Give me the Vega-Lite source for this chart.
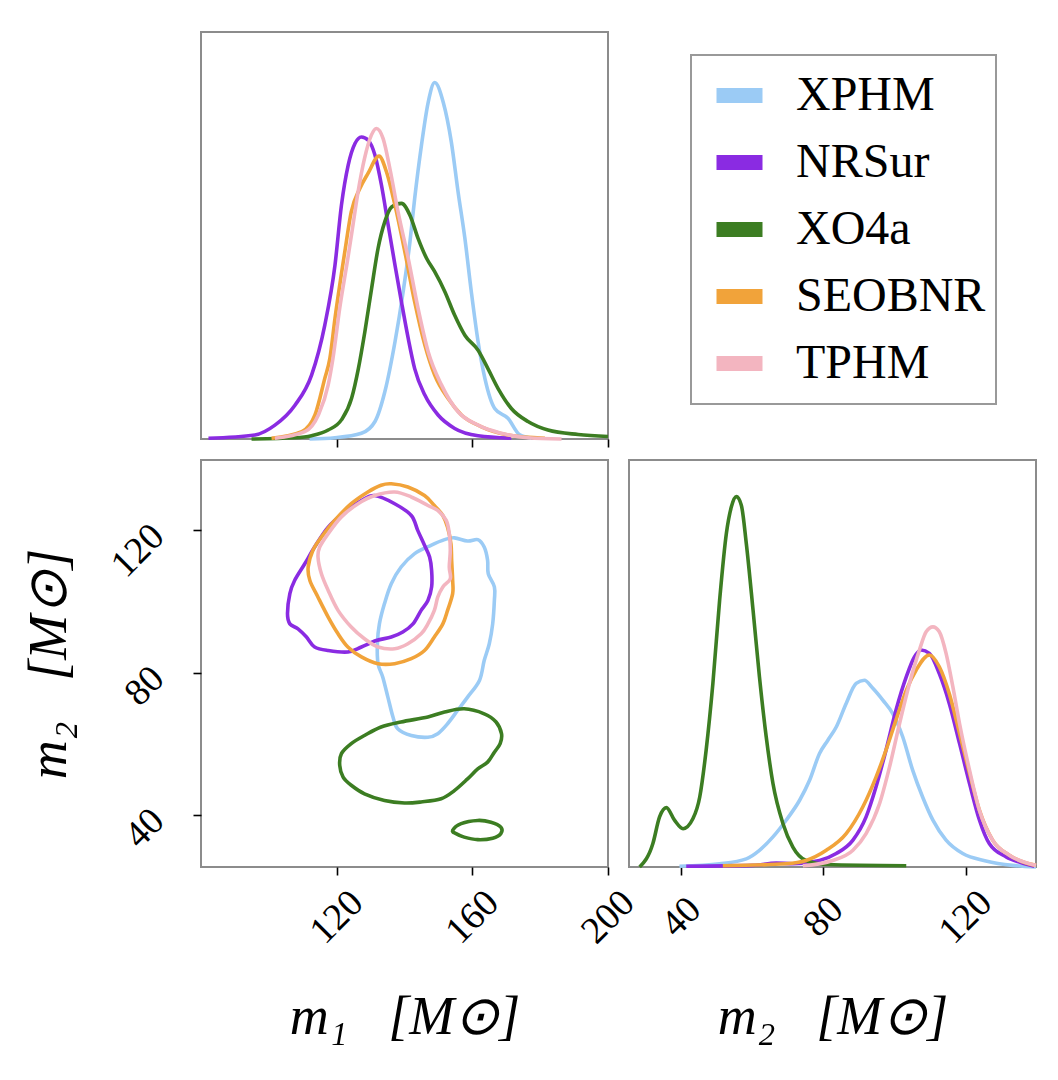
{
  "$schema": "https://vega.github.io/schema/vega-lite/v6.json",
  "background": "white",
  "padding": {"left": 21, "top": 31, "right": 5, "bottom": 5},
  "columns": 2,
  "spacing": 21,
  "bounds": "flush",
  "datasets": {
    "m1dens": [
      {"model":"XPHM","m1":112,"d":0},{"model":"XPHM","m1":119.5,"d":0.3},{"model":"XPHM","m1":127.3,"d":1.4},{"model":"XPHM","m1":131.3,"d":4.3},{"model":"XPHM","m1":134.2,"d":11.6},{"model":"XPHM","m1":137.2,"d":23.9},{"model":"XPHM","m1":139.6,"d":36.2},{"model":"XPHM","m1":141.6,"d":48.4},{"model":"XPHM","m1":143.0,"d":59.1},{"model":"XPHM","m1":145.0,"d":72.2},{"model":"XPHM","m1":147.0,"d":82.8},{"model":"XPHM","m1":148.9,"d":87.6},{"model":"XPHM","m1":151.4,"d":82.8},{"model":"XPHM","m1":153.8,"d":73.0},{"model":"XPHM","m1":155.8,"d":60.7},{"model":"XPHM","m1":157.8,"d":49.3},{"model":"XPHM","m1":159.7,"d":36.2},{"model":"XPHM","m1":161.7,"d":23.9},{"model":"XPHM","m1":163.7,"d":14.9},{"model":"XPHM","m1":166.6,"d":7.5},{"model":"XPHM","m1":170.5,"d":5.1},{"model":"XPHM","m1":174.0,"d":1.0},{"model":"XPHM","m1":177.4,"d":0.2},
      {"model":"NRSur","m1":82.2,"d":0.2},{"model":"NRSur","m1":95.9,"d":1.0},{"model":"NRSur","m1":101.8,"d":3.4},{"model":"NRSur","m1":107.7,"d":8.3},{"model":"NRSur","m1":112.6,"d":15.7},{"model":"NRSur","m1":116.5,"d":28.0},{"model":"NRSur","m1":119.5,"d":42.7},{"model":"NRSur","m1":121.4,"d":57.4},{"model":"NRSur","m1":123.4,"d":67.3},{"model":"NRSur","m1":125.4,"d":72.6},{"model":"NRSur","m1":127.3,"d":74.2},{"model":"NRSur","m1":129.3,"d":73.4},{"model":"NRSur","m1":131.3,"d":69.7},{"model":"NRSur","m1":133.2,"d":62.4},{"model":"NRSur","m1":135.2,"d":52.5},{"model":"NRSur","m1":137.2,"d":42.7},{"model":"NRSur","m1":139.1,"d":33.7},{"model":"NRSur","m1":141.1,"d":24.7},{"model":"NRSur","m1":143.0,"d":17.3},{"model":"NRSur","m1":146.0,"d":10.8},{"model":"NRSur","m1":149.9,"d":5.9},{"model":"NRSur","m1":154.8,"d":2.6},{"model":"NRSur","m1":161.7,"d":0.8},{"model":"NRSur","m1":171.5,"d":0.2},
      {"model":"XO4a","m1":94.9,"d":0},{"model":"XO4a","m1":107.7,"d":0.3},{"model":"XO4a","m1":112.6,"d":0.8},{"model":"XO4a","m1":117.5,"d":2.2},{"model":"XO4a","m1":121.4,"d":4.7},{"model":"XO4a","m1":124.4,"d":10.0},{"model":"XO4a","m1":126.4,"d":17.3},{"model":"XO4a","m1":128.3,"d":26.3},{"model":"XO4a","m1":130.3,"d":37.0},{"model":"XO4a","m1":132.2,"d":46.8},{"model":"XO4a","m1":134.2,"d":53.4},{"model":"XO4a","m1":136.2,"d":57.0},{"model":"XO4a","m1":139.1,"d":57.9},{"model":"XO4a","m1":141.6,"d":55.0},{"model":"XO4a","m1":144.0,"d":49.3},{"model":"XO4a","m1":146.5,"d":44.4},{"model":"XO4a","m1":148.9,"d":41.1},{"model":"XO4a","m1":151.9,"d":36.2},{"model":"XO4a","m1":154.8,"d":30.4},{"model":"XO4a","m1":157.8,"d":25.5},{"model":"XO4a","m1":161.7,"d":21.8},{"model":"XO4a","m1":164.6,"d":17.3},{"model":"XO4a","m1":167.6,"d":12.4},{"model":"XO4a","m1":171.5,"d":7.5},{"model":"XO4a","m1":176.4,"d":4.3},{"model":"XO4a","m1":182.3,"d":2.2},{"model":"XO4a","m1":191.2,"d":1.1},{"model":"XO4a","m1":200.0,"d":0.6},
      {"model":"SEOBNR","m1":100.8,"d":0.2},{"model":"SEOBNR","m1":109.7,"d":1.8},{"model":"SEOBNR","m1":113.6,"d":5.9},{"model":"SEOBNR","m1":116.5,"d":14.9},{"model":"SEOBNR","m1":118.0,"d":19.8},{"model":"SEOBNR","m1":119.5,"d":29.6},{"model":"SEOBNR","m1":122.4,"d":46.0},{"model":"SEOBNR","m1":124.3,"d":55.8},{"model":"SEOBNR","m1":126.8,"d":61.5},{"model":"SEOBNR","m1":129.2,"d":65.2},{"model":"SEOBNR","m1":132.5,"d":69.5},{"model":"SEOBNR","m1":134.7,"d":65.6},{"model":"SEOBNR","m1":137.2,"d":57.4},{"model":"SEOBNR","m1":140.1,"d":46.0},{"model":"SEOBNR","m1":143.0,"d":33.7},{"model":"SEOBNR","m1":146.0,"d":23.1},{"model":"SEOBNR","m1":148.9,"d":15.7},{"model":"SEOBNR","m1":152.8,"d":10.0},{"model":"SEOBNR","m1":156.8,"d":5.9},{"model":"SEOBNR","m1":162.7,"d":3.0},{"model":"SEOBNR","m1":170.5,"d":1.0},{"model":"SEOBNR","m1":181.4,"d":0.2},
      {"model":"TPHM","m1":101.8,"d":0.2},{"model":"TPHM","m1":110.6,"d":1.8},{"model":"TPHM","m1":114.6,"d":5.9},{"model":"TPHM","m1":117.5,"d":13.3},{"model":"TPHM","m1":118.9,"d":19.8},{"model":"TPHM","m1":120.9,"d":32.1},{"model":"TPHM","m1":123.3,"d":44.4},{"model":"TPHM","m1":124.8,"d":52.5},{"model":"TPHM","m1":126.3,"d":60.7},{"model":"TPHM","m1":128.2,"d":68.9},{"model":"TPHM","m1":130.2,"d":74.6},{"model":"TPHM","m1":131.7,"d":76.3},{"model":"TPHM","m1":133.7,"d":73.8},{"model":"TPHM","m1":135.7,"d":66.4},{"model":"TPHM","m1":138.1,"d":55.8},{"model":"TPHM","m1":141.1,"d":44.4},{"model":"TPHM","m1":144.0,"d":32.1},{"model":"TPHM","m1":147.0,"d":21.4},{"model":"TPHM","m1":150.9,"d":13.3},{"model":"TPHM","m1":155.8,"d":6.7},{"model":"TPHM","m1":161.7,"d":3.4},{"model":"TPHM","m1":168.6,"d":1.4},{"model":"TPHM","m1":176.4,"d":0.3},{"model":"TPHM","m1":186.3,"d":0}
    ],
    "m2dens": [
      {"model":"XPHM","m2":39.5,"d":0.2},{"model":"XPHM","m2":50.8,"d":0.8},{"model":"XPHM","m2":58.3,"d":2.0},{"model":"XPHM","m2":62.0,"d":4.1},{"model":"XPHM","m2":65.8,"d":7.4},{"model":"XPHM","m2":69.5,"d":11.5},{"model":"XPHM","m2":73.3,"d":16.4},{"model":"XPHM","m2":76.1,"d":21.3},{"model":"XPHM","m2":78.9,"d":27.9},{"model":"XPHM","m2":81.2,"d":31.1},{"model":"XPHM","m2":83.6,"d":34.4},{"model":"XPHM","m2":86.4,"d":40.2},{"model":"XPHM","m2":89.2,"d":45.1},{"model":"XPHM","m2":91.5,"d":45.9},{"model":"XPHM","m2":93.9,"d":43.9},{"model":"XPHM","m2":96.7,"d":41.0},{"model":"XPHM","m2":99.5,"d":37.7},{"model":"XPHM","m2":102.3,"d":32.0},{"model":"XPHM","m2":105.1,"d":23.8},{"model":"XPHM","m2":107.9,"d":17.2},{"model":"XPHM","m2":110.8,"d":11.5},{"model":"XPHM","m2":114.5,"d":6.6},{"model":"XPHM","m2":119.2,"d":3.3},{"model":"XPHM","m2":125.7,"d":1.5},{"model":"XPHM","m2":133.2,"d":0.4},{"model":"XPHM","m2":139.8,"d":0},
      {"model":"NRSur","m2":41.4,"d":0.2},{"model":"NRSur","m2":60.2,"d":0.4},{"model":"NRSur","m2":66.7,"d":1.0},{"model":"NRSur","m2":71.4,"d":0.8},{"model":"NRSur","m2":78.9,"d":1.6},{"model":"NRSur","m2":83.6,"d":3.3},{"model":"NRSur","m2":88.3,"d":6.6},{"model":"NRSur","m2":92.0,"d":12.3},{"model":"NRSur","m2":94.8,"d":19.7},{"model":"NRSur","m2":97.6,"d":28.7},{"model":"NRSur","m2":100.4,"d":38.5},{"model":"NRSur","m2":103.3,"d":46.7},{"model":"NRSur","m2":105.6,"d":51.6},{"model":"NRSur","m2":107.5,"d":53.3},{"model":"NRSur","m2":109.8,"d":52.5},{"model":"NRSur","m2":112.6,"d":47.5},{"model":"NRSur","m2":115.4,"d":40.2},{"model":"NRSur","m2":118.3,"d":30.3},{"model":"NRSur","m2":121.1,"d":20.5},{"model":"NRSur","m2":123.9,"d":11.5},{"model":"NRSur","m2":126.7,"d":5.7},{"model":"NRSur","m2":131.4,"d":2.5},{"model":"NRSur","m2":135.1,"d":1.2},{"model":"NRSur","m2":139.3,"d":0.2},
      {"model":"XO4a","m2":28.3,"d":0},{"model":"XO4a","m2":32.0,"d":5.7},{"model":"XO4a","m2":33.9,"d":12.3},{"model":"XO4a","m2":35.8,"d":14.6},{"model":"XO4a","m2":38.1,"d":11.5},{"model":"XO4a","m2":40.5,"d":9.4},{"model":"XO4a","m2":43.3,"d":11.9},{"model":"XO4a","m2":45.2,"d":17.2},{"model":"XO4a","m2":47.0,"d":28.7},{"model":"XO4a","m2":48.9,"d":45.1},{"model":"XO4a","m2":50.8,"d":65.6},{"model":"XO4a","m2":52.7,"d":82.0},{"model":"XO4a","m2":54.1,"d":88.5},{"model":"XO4a","m2":55.5,"d":91.0},{"model":"XO4a","m2":56.9,"d":88.9},{"model":"XO4a","m2":58.3,"d":79.5},{"model":"XO4a","m2":60.2,"d":63.1},{"model":"XO4a","m2":62.0,"d":46.7},{"model":"XO4a","m2":63.9,"d":32.0},{"model":"XO4a","m2":65.8,"d":20.5},{"model":"XO4a","m2":68.6,"d":10.7},{"model":"XO4a","m2":71.4,"d":4.9},{"model":"XO4a","m2":75.1,"d":1.6},{"model":"XO4a","m2":80.8,"d":0.6},{"model":"XO4a","m2":103.3,"d":0.3},
      {"model":"SEOBNR","m2":51.7,"d":0.3},{"model":"SEOBNR","m2":69.5,"d":0.8},{"model":"SEOBNR","m2":75.1,"d":1.6},{"model":"SEOBNR","m2":80.8,"d":4.1},{"model":"SEOBNR","m2":86.4,"d":8.2},{"model":"SEOBNR","m2":91.1,"d":14.8},{"model":"SEOBNR","m2":94.8,"d":22.1},{"model":"SEOBNR","m2":97.6,"d":28.7},{"model":"SEOBNR","m2":100.4,"d":36.1},{"model":"SEOBNR","m2":103.3,"d":43.4},{"model":"SEOBNR","m2":106.1,"d":48.4},{"model":"SEOBNR","m2":109.8,"d":52.1},{"model":"SEOBNR","m2":112.6,"d":49.2},{"model":"SEOBNR","m2":115.4,"d":42.6},{"model":"SEOBNR","m2":118.3,"d":32.8},{"model":"SEOBNR","m2":121.1,"d":23.0},{"model":"SEOBNR","m2":123.9,"d":13.9},{"model":"SEOBNR","m2":127.6,"d":6.6},{"model":"SEOBNR","m2":132.3,"d":2.9},{"model":"SEOBNR","m2":137.0,"d":1.0},{"model":"SEOBNR","m2":139.8,"d":0.4},
      {"model":"TPHM","m2":74.2,"d":0.3},{"model":"TPHM","m2":82.6,"d":1.6},{"model":"TPHM","m2":88.3,"d":4.1},{"model":"TPHM","m2":92.0,"d":8.2},{"model":"TPHM","m2":95.8,"d":15.6},{"model":"TPHM","m2":98.6,"d":24.6},{"model":"TPHM","m2":101.4,"d":35.2},{"model":"TPHM","m2":104.2,"d":45.1},{"model":"TPHM","m2":107.0,"d":53.3},{"model":"TPHM","m2":108.9,"d":57.8},{"model":"TPHM","m2":110.8,"d":59.0},{"model":"TPHM","m2":112.6,"d":57.8},{"model":"TPHM","m2":114.5,"d":52.5},{"model":"TPHM","m2":116.4,"d":44.3},{"model":"TPHM","m2":118.3,"d":35.2},{"model":"TPHM","m2":121.1,"d":23.8},{"model":"TPHM","m2":123.9,"d":13.9},{"model":"TPHM","m2":127.6,"d":6.6},{"model":"TPHM","m2":132.3,"d":2.9},{"model":"TPHM","m2":139.8,"d":0.4}
    ],
    "contours": [
      {"model":"XPHM","grp":"XPHM-1","i":0,"m1":154.7,"m2":117.9},{"model":"XPHM","grp":"XPHM-1","i":1,"m1":158.6,"m2":117.0},{"model":"XPHM","grp":"XPHM-1","i":2,"m1":161.6,"m2":117.4},{"model":"XPHM","grp":"XPHM-1","i":3,"m1":163.5,"m2":115.3},{"model":"XPHM","grp":"XPHM-1","i":4,"m1":164.5,"m2":111.6},{"model":"XPHM","grp":"XPHM-1","i":5,"m1":164.7,"m2":107.8},{"model":"XPHM","grp":"XPHM-1","i":6,"m1":166.5,"m2":104.1},{"model":"XPHM","grp":"XPHM-1","i":7,"m1":166.5,"m2":100.3},{"model":"XPHM","grp":"XPHM-1","i":8,"m1":166.0,"m2":93.7},{"model":"XPHM","grp":"XPHM-1","i":9,"m1":165.0,"m2":88.1},{"model":"XPHM","grp":"XPHM-1","i":10,"m1":163.5,"m2":83.4},{"model":"XPHM","grp":"XPHM-1","i":11,"m1":162.1,"m2":77.8},{"model":"XPHM","grp":"XPHM-1","i":12,"m1":158.6,"m2":73.1},{"model":"XPHM","grp":"XPHM-1","i":13,"m1":155.7,"m2":69.4},{"model":"XPHM","grp":"XPHM-1","i":14,"m1":152.7,"m2":65.6},{"model":"XPHM","grp":"XPHM-1","i":15,"m1":149.8,"m2":62.8},{"model":"XPHM","grp":"XPHM-1","i":16,"m1":146.9,"m2":61.8},{"model":"XPHM","grp":"XPHM-1","i":17,"m1":142.0,"m2":62.3},{"model":"XPHM","grp":"XPHM-1","i":18,"m1":138.0,"m2":64.2},{"model":"XPHM","grp":"XPHM-1","i":19,"m1":136.6,"m2":67.5},{"model":"XPHM","grp":"XPHM-1","i":20,"m1":135.1,"m2":73.1},{"model":"XPHM","grp":"XPHM-1","i":21,"m1":133.6,"m2":78.7},{"model":"XPHM","grp":"XPHM-1","i":22,"m1":132.2,"m2":82.5},{"model":"XPHM","grp":"XPHM-1","i":23,"m1":132.0,"m2":88.1},{"model":"XPHM","grp":"XPHM-1","i":24,"m1":132.6,"m2":93.7},{"model":"XPHM","grp":"XPHM-1","i":25,"m1":134.1,"m2":99.4},{"model":"XPHM","grp":"XPHM-1","i":26,"m1":136.1,"m2":105.0},{"model":"XPHM","grp":"XPHM-1","i":27,"m1":139.0,"m2":109.7},{"model":"XPHM","grp":"XPHM-1","i":28,"m1":142.9,"m2":113.4},{"model":"XPHM","grp":"XPHM-1","i":29,"m1":147.8,"m2":115.8},{"model":"XPHM","grp":"XPHM-1","i":30,"m1":151.8,"m2":117.4},
      {"model":"NRSur","grp":"NRSur-1","i":0,"m1":131.2,"m2":129.8},{"model":"NRSur","grp":"NRSur-1","i":1,"m1":137.1,"m2":127.5},{"model":"NRSur","grp":"NRSur-1","i":2,"m1":142.0,"m2":124.2},{"model":"NRSur","grp":"NRSur-1","i":3,"m1":143.9,"m2":120.0},{"model":"NRSur","grp":"NRSur-1","i":4,"m1":145.9,"m2":115.8},{"model":"NRSur","grp":"NRSur-1","i":5,"m1":147.4,"m2":112.5},{"model":"NRSur","grp":"NRSur-1","i":6,"m1":148.0,"m2":108.7},{"model":"NRSur","grp":"NRSur-1","i":7,"m1":148.0,"m2":104.1},{"model":"NRSur","grp":"NRSur-1","i":8,"m1":146.9,"m2":100.3},{"model":"NRSur","grp":"NRSur-1","i":9,"m1":144.9,"m2":97.5},{"model":"NRSur","grp":"NRSur-1","i":10,"m1":142.5,"m2":93.7},{"model":"NRSur","grp":"NRSur-1","i":11,"m1":139.5,"m2":91.4},{"model":"NRSur","grp":"NRSur-1","i":12,"m1":136.1,"m2":90.0},{"model":"NRSur","grp":"NRSur-1","i":13,"m1":131.7,"m2":89.0},{"model":"NRSur","grp":"NRSur-1","i":14,"m1":127.3,"m2":87.2},{"model":"NRSur","grp":"NRSur-1","i":15,"m1":123.3,"m2":85.8},{"model":"NRSur","grp":"NRSur-1","i":16,"m1":117.5,"m2":86.2},{"model":"NRSur","grp":"NRSur-1","i":17,"m1":113.5,"m2":87.2},{"model":"NRSur","grp":"NRSur-1","i":18,"m1":111.1,"m2":90.0},{"model":"NRSur","grp":"NRSur-1","i":19,"m1":108.6,"m2":92.3},{"model":"NRSur","grp":"NRSur-1","i":20,"m1":106.2,"m2":93.7},{"model":"NRSur","grp":"NRSur-1","i":21,"m1":105.5,"m2":96.6},{"model":"NRSur","grp":"NRSur-1","i":22,"m1":106.2,"m2":102.2},{"model":"NRSur","grp":"NRSur-1","i":23,"m1":107.6,"m2":105.9},{"model":"NRSur","grp":"NRSur-1","i":24,"m1":110.6,"m2":110.6},{"model":"NRSur","grp":"NRSur-1","i":25,"m1":113.5,"m2":115.3},{"model":"NRSur","grp":"NRSur-1","i":26,"m1":117.5,"m2":120.9},{"model":"NRSur","grp":"NRSur-1","i":27,"m1":122.4,"m2":125.2},{"model":"NRSur","grp":"NRSur-1","i":28,"m1":127.3,"m2":128.4},
      {"model":"XO4a","grp":"XO4a-1","i":0,"m1":157.6,"m2":69.8},{"model":"XO4a","grp":"XO4a-1","i":1,"m1":163.5,"m2":68.4},{"model":"XO4a","grp":"XO4a-1","i":2,"m1":167.0,"m2":66.1},{"model":"XO4a","grp":"XO4a-1","i":3,"m1":168.6,"m2":62.8},{"model":"XO4a","grp":"XO4a-1","i":4,"m1":168.2,"m2":60.0},{"model":"XO4a","grp":"XO4a-1","i":5,"m1":166.5,"m2":57.6},{"model":"XO4a","grp":"XO4a-1","i":6,"m1":164.5,"m2":54.8},{"model":"XO4a","grp":"XO4a-1","i":7,"m1":161.6,"m2":52.9},{"model":"XO4a","grp":"XO4a-1","i":8,"m1":158.6,"m2":50.1},{"model":"XO4a","grp":"XO4a-1","i":9,"m1":154.7,"m2":46.8},{"model":"XO4a","grp":"XO4a-1","i":10,"m1":150.8,"m2":44.5},{"model":"XO4a","grp":"XO4a-1","i":11,"m1":144.9,"m2":43.6},{"model":"XO4a","grp":"XO4a-1","i":12,"m1":140.0,"m2":43.3},{"model":"XO4a","grp":"XO4a-1","i":13,"m1":134.1,"m2":44.0},{"model":"XO4a","grp":"XO4a-1","i":14,"m1":128.2,"m2":45.9},{"model":"XO4a","grp":"XO4a-1","i":15,"m1":124.3,"m2":48.3},{"model":"XO4a","grp":"XO4a-1","i":16,"m1":121.9,"m2":50.6},{"model":"XO4a","grp":"XO4a-1","i":17,"m1":120.9,"m2":53.9},{"model":"XO4a","grp":"XO4a-1","i":18,"m1":121.4,"m2":57.2},{"model":"XO4a","grp":"XO4a-1","i":19,"m1":124.3,"m2":60.0},{"model":"XO4a","grp":"XO4a-1","i":20,"m1":128.2,"m2":62.3},{"model":"XO4a","grp":"XO4a-1","i":21,"m1":133.1,"m2":64.7},{"model":"XO4a","grp":"XO4a-1","i":22,"m1":139.0,"m2":66.1},{"model":"XO4a","grp":"XO4a-1","i":23,"m1":146.9,"m2":67.5},{"model":"XO4a","grp":"XO4a-1","i":24,"m1":151.8,"m2":68.9},
      {"model":"XO4a","grp":"XO4a-2","i":0,"m1":154.2,"m2":35.6},{"model":"XO4a","grp":"XO4a-2","i":1,"m1":156.7,"m2":37.5},{"model":"XO4a","grp":"XO4a-2","i":2,"m1":161.6,"m2":38.4},{"model":"XO4a","grp":"XO4a-2","i":3,"m1":165.5,"m2":37.9},{"model":"XO4a","grp":"XO4a-2","i":4,"m1":168.4,"m2":36.5},{"model":"XO4a","grp":"XO4a-2","i":5,"m1":168.4,"m2":34.7},{"model":"XO4a","grp":"XO4a-2","i":6,"m1":166.0,"m2":33.4},{"model":"XO4a","grp":"XO4a-2","i":7,"m1":161.6,"m2":33.0},{"model":"XO4a","grp":"XO4a-2","i":8,"m1":157.6,"m2":33.7},{"model":"XO4a","grp":"XO4a-2","i":9,"m1":155.2,"m2":34.7},
      {"model":"SEOBNR","grp":"SEOBNR-1","i":0,"m1":136.1,"m2":133.1},{"model":"SEOBNR","grp":"SEOBNR-1","i":1,"m1":141.0,"m2":132.2},{"model":"SEOBNR","grp":"SEOBNR-1","i":2,"m1":145.9,"m2":129.8},{"model":"SEOBNR","grp":"SEOBNR-1","i":3,"m1":148.8,"m2":127.0},{"model":"SEOBNR","grp":"SEOBNR-1","i":4,"m1":151.3,"m2":124.2},{"model":"SEOBNR","grp":"SEOBNR-1","i":5,"m1":152.7,"m2":120.9},{"model":"SEOBNR","grp":"SEOBNR-1","i":6,"m1":153.7,"m2":116.2},{"model":"SEOBNR","grp":"SEOBNR-1","i":7,"m1":153.9,"m2":111.6},{"model":"SEOBNR","grp":"SEOBNR-1","i":8,"m1":154.2,"m2":105.9},{"model":"SEOBNR","grp":"SEOBNR-1","i":9,"m1":154.2,"m2":102.2},{"model":"SEOBNR","grp":"SEOBNR-1","i":10,"m1":152.7,"m2":97.5},{"model":"SEOBNR","grp":"SEOBNR-1","i":11,"m1":151.3,"m2":93.7},{"model":"SEOBNR","grp":"SEOBNR-1","i":12,"m1":148.8,"m2":90.0},{"model":"SEOBNR","grp":"SEOBNR-1","i":13,"m1":145.9,"m2":86.2},{"model":"SEOBNR","grp":"SEOBNR-1","i":14,"m1":142.0,"m2":83.9},{"model":"SEOBNR","grp":"SEOBNR-1","i":15,"m1":137.1,"m2":82.5},{"model":"SEOBNR","grp":"SEOBNR-1","i":16,"m1":132.2,"m2":82.5},{"model":"SEOBNR","grp":"SEOBNR-1","i":17,"m1":127.3,"m2":84.4},{"model":"SEOBNR","grp":"SEOBNR-1","i":18,"m1":123.3,"m2":87.2},{"model":"SEOBNR","grp":"SEOBNR-1","i":19,"m1":120.4,"m2":90.9},{"model":"SEOBNR","grp":"SEOBNR-1","i":20,"m1":117.5,"m2":95.6},{"model":"SEOBNR","grp":"SEOBNR-1","i":21,"m1":114.5,"m2":101.2},{"model":"SEOBNR","grp":"SEOBNR-1","i":22,"m1":112.1,"m2":105.9},{"model":"SEOBNR","grp":"SEOBNR-1","i":23,"m1":111.6,"m2":109.7},{"model":"SEOBNR","grp":"SEOBNR-1","i":24,"m1":113.0,"m2":114.4},{"model":"SEOBNR","grp":"SEOBNR-1","i":25,"m1":115.5,"m2":118.1},{"model":"SEOBNR","grp":"SEOBNR-1","i":26,"m1":119.4,"m2":122.8},{"model":"SEOBNR","grp":"SEOBNR-1","i":27,"m1":124.3,"m2":127.5},{"model":"SEOBNR","grp":"SEOBNR-1","i":28,"m1":129.2,"m2":130.8},{"model":"SEOBNR","grp":"SEOBNR-1","i":29,"m1":133.1,"m2":132.7},
      {"model":"TPHM","grp":"TPHM-1","i":0,"m1":137.1,"m2":130.8},{"model":"TPHM","grp":"TPHM-1","i":1,"m1":142.0,"m2":129.4},{"model":"TPHM","grp":"TPHM-1","i":2,"m1":146.9,"m2":127.0},{"model":"TPHM","grp":"TPHM-1","i":3,"m1":149.8,"m2":125.6},{"model":"TPHM","grp":"TPHM-1","i":4,"m1":152.3,"m2":122.8},{"model":"TPHM","grp":"TPHM-1","i":5,"m1":153.2,"m2":119.1},{"model":"TPHM","grp":"TPHM-1","i":6,"m1":153.5,"m2":114.4},{"model":"TPHM","grp":"TPHM-1","i":7,"m1":153.2,"m2":109.7},{"model":"TPHM","grp":"TPHM-1","i":8,"m1":153.5,"m2":106.4},{"model":"TPHM","grp":"TPHM-1","i":9,"m1":151.3,"m2":104.1},{"model":"TPHM","grp":"TPHM-1","i":10,"m1":149.8,"m2":101.2},{"model":"TPHM","grp":"TPHM-1","i":11,"m1":148.8,"m2":97.5},{"model":"TPHM","grp":"TPHM-1","i":12,"m1":146.9,"m2":93.7},{"model":"TPHM","grp":"TPHM-1","i":13,"m1":144.9,"m2":90.9},{"model":"TPHM","grp":"TPHM-1","i":14,"m1":141.0,"m2":88.1},{"model":"TPHM","grp":"TPHM-1","i":15,"m1":137.1,"m2":86.7},{"model":"TPHM","grp":"TPHM-1","i":16,"m1":132.2,"m2":87.2},{"model":"TPHM","grp":"TPHM-1","i":17,"m1":128.2,"m2":89.5},{"model":"TPHM","grp":"TPHM-1","i":18,"m1":124.3,"m2":92.8},{"model":"TPHM","grp":"TPHM-1","i":19,"m1":120.4,"m2":97.5},{"model":"TPHM","grp":"TPHM-1","i":20,"m1":117.5,"m2":103.1},{"model":"TPHM","grp":"TPHM-1","i":21,"m1":115.5,"m2":107.8},{"model":"TPHM","grp":"TPHM-1","i":22,"m1":114.5,"m2":112.5},{"model":"TPHM","grp":"TPHM-1","i":23,"m1":115.0,"m2":115.3},{"model":"TPHM","grp":"TPHM-1","i":24,"m1":117.5,"m2":119.1},{"model":"TPHM","grp":"TPHM-1","i":25,"m1":121.4,"m2":123.8},{"model":"TPHM","grp":"TPHM-1","i":26,"m1":126.3,"m2":127.5},{"model":"TPHM","grp":"TPHM-1","i":27,"m1":131.2,"m2":129.8}
    ],
    "empty": []
  },
  "concat": [
    {
      "data": {"name": "m1dens"},
      "width": 407, "height": 407,
      "mark": {"type": "line", "interpolate": "monotone", "strokeWidth": 3.6},
      "encoding": {
        "x": {"field": "m1", "type": "quantitative", "scale": {"domain": [80, 200], "nice": false, "zero": false}, "axis": {"values": [120, 160, 200], "labels": false, "title": null}},
        "y": {"field": "d", "type": "quantitative", "scale": {"domain": [0, 100], "nice": false}, "axis": null},
        "color": {"field": "model", "type": "nominal", "scale": {"domain": ["XPHM", "NRSur", "XO4a", "SEOBNR", "TPHM"], "range": ["#9BCBF5", "#8A2BE2", "#3C7D22", "#F1A33A", "#F3B5C0"]}, "legend": {"title": null}}
      }
    },
    {
      "data": {"name": "empty"},
      "width": 407, "height": 407,
      "view": {"stroke": null},
      "mark": {"type": "point", "opacity": 0},
      "encoding": {}
    },
    {
      "data": {"name": "contours"},
      "width": 407, "height": 407,
      "mark": {"type": "line", "interpolate": "cardinal-closed", "strokeWidth": 3.6},
      "encoding": {
        "x": {"field": "m1", "type": "quantitative", "scale": {"domain": [80, 200], "nice": false, "zero": false}, "axis": {"values": [120, 160, 200], "title": "m₁\u00a0\u00a0\u00a0[M⊙]"}},
        "y": {"field": "m2", "type": "quantitative", "scale": {"domain": [25.3, 139.8], "nice": false, "zero": false}, "axis": {"values": [40, 80, 120], "title": "m₂\u00a0\u00a0\u00a0[M⊙]"}},
        "color": {"field": "model", "type": "nominal", "scale": {"domain": ["XPHM", "NRSur", "XO4a", "SEOBNR", "TPHM"], "range": ["#9BCBF5", "#8A2BE2", "#3C7D22", "#F1A33A", "#F3B5C0"]}, "legend": {"title": null}},
        "detail": {"field": "grp", "type": "nominal"},
        "order": {"field": "i", "type": "quantitative"}
      }
    },
    {
      "data": {"name": "m2dens"},
      "width": 407, "height": 407,
      "mark": {"type": "line", "interpolate": "monotone", "strokeWidth": 3.6},
      "encoding": {
        "x": {"field": "m2", "type": "quantitative", "scale": {"domain": [25.3, 139.8], "nice": false, "zero": false}, "axis": {"values": [40, 80, 120], "title": "m₂\u00a0\u00a0\u00a0[M⊙]"}},
        "y": {"field": "d", "type": "quantitative", "scale": {"domain": [0, 100], "nice": false}, "axis": null},
        "color": {"field": "model", "type": "nominal", "scale": {"domain": ["XPHM", "NRSur", "XO4a", "SEOBNR", "TPHM"], "range": ["#9BCBF5", "#8A2BE2", "#3C7D22", "#F1A33A", "#F3B5C0"]}, "legend": {"title": null}}
      }
    }
  ],
  "config": {
    "view": {"stroke": "#8c8c8c", "strokeWidth": 2},
    "axis": {"domain": false, "grid": false, "tickColor": "#000", "tickSize": 8, "tickWidth": 1.6, "labelFont": "Liberation Serif", "labelFontSize": 38, "labelColor": "#000", "titleFont": "Liberation Serif", "titleFontSize": 54, "titleFontStyle": "italic", "titleFontWeight": "normal", "titleColor": "#000"},
    "axisX": {"labelAngle": -45, "labelAlign": "center", "labelBaseline": "middle", "labelPadding": 42, "titlePadding": 40},
    "axisY": {"labelAngle": -45, "labelAlign": "right", "labelBaseline": "middle", "labelPadding": 35, "titlePadding": 28},
    "legend": {"orient": "none", "legendX": 490, "legendY": 23, "symbolType": "stroke", "symbolSize": 2116, "symbolStrokeWidth": 15, "labelFont": "Liberation Serif", "labelFontSize": 48, "labelColor": "#000", "labelOffset": 26, "labelLimit": 400, "padding": 10, "rowPadding": 6, "symbolOffset": 8, "strokeColor": "#999999", "strokeWidth": 2, "fillColor": "white"}
  }
}
